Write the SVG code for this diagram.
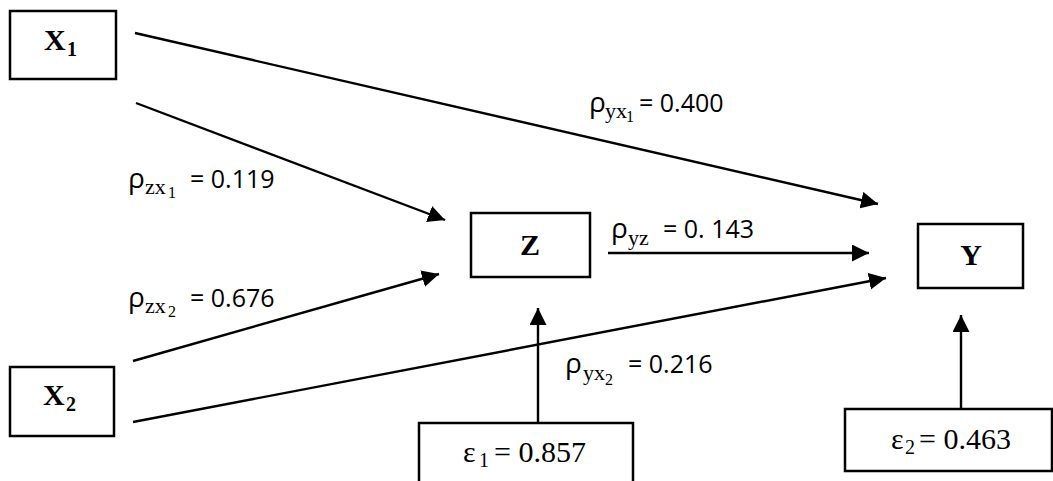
<svg xmlns="http://www.w3.org/2000/svg" width="1053" height="481" viewBox="0 0 1053 481">
<style>
.box{fill:#fff;stroke:#000;stroke-width:2.5}
.edge{stroke:#000;stroke-width:2.4;fill:none}
.bl{font-family:"Liberation Serif","DejaVu Serif",serif;font-weight:bold;font-size:30px;fill:#000}
.bls{font-family:"Liberation Serif","DejaVu Serif",serif;font-weight:bold;font-size:20px;fill:#000}
.lab{font-family:"Open Sans","Liberation Sans",sans-serif;font-size:25px;fill:#000}
.rho{font-family:"Open Sans","Liberation Sans",sans-serif;font-size:28px;fill:#000}
.sub{font-family:"Liberation Serif","DejaVu Serif",serif;font-size:22px;fill:#000}
.ss{font-family:"Liberation Serif","DejaVu Serif",serif;font-size:16px;fill:#000}
.eps{font-family:"Liberation Serif","DejaVu Serif",serif;font-size:30px;fill:#000}
.epss{font-family:"Liberation Serif","DejaVu Serif",serif;font-size:20px;fill:#000}
</style>
<defs>
<marker id="ah" markerUnits="userSpaceOnUse" markerWidth="18" markerHeight="18" refX="17" refY="8.5" orient="auto">
<path d="M0,0 L17,8.5 L0,17 Z" fill="#000"/>
</marker>
</defs>
<rect width="1053" height="481" fill="#fff"/>
<g id="connectors">
<line class="edge" x1="135" y1="33" x2="878" y2="204" marker-end="url(#ah)"/>
<line class="edge" x1="136" y1="103" x2="445" y2="220" marker-end="url(#ah)"/>
<line class="edge" x1="133" y1="361" x2="439" y2="274" marker-end="url(#ah)"/>
<line class="edge" x1="133" y1="422" x2="886" y2="278" marker-end="url(#ah)"/>
<line class="edge" x1="608" y1="253" x2="869" y2="253" marker-end="url(#ah)"/>
<line class="edge" x1="538" y1="423" x2="538" y2="308" marker-end="url(#ah)"/>
<line class="edge" x1="961" y1="409" x2="961" y2="315" marker-end="url(#ah)"/>
</g>
<g id="labels">
<text class="rho" x="589" y="112">ρ</text><text class="sub" x="605" y="118">yx</text><text class="ss" x="626" y="122">1</text><text class="lab" x="639" y="112">= 0.400</text>
<text class="rho" x="128" y="188">ρ</text><text class="sub" x="145" y="194">zx</text><text class="ss" x="168" y="198">1</text><text class="lab" x="190" y="188">= 0.119</text>
<text class="rho" x="128" y="307">ρ</text><text class="sub" x="145" y="313">zx</text><text class="ss" x="168" y="317">2</text><text class="lab" x="190" y="307">= 0.676</text>
<text class="rho" x="611" y="238">ρ</text><text class="sub" x="628" y="245">yz</text><text class="lab" x="663" y="238">= 0. 143</text>
<text class="rho" x="565" y="373">ρ</text><text class="sub" x="583" y="380">yx</text><text class="ss" x="605" y="385">2</text><text class="lab" x="628" y="373">= 0.216</text>
</g>
<g id="X1">
<rect class="box" x="10" y="11" width="106" height="68"/>
<text class="bl" x="44" y="50">X</text><text class="bls" x="67" y="56">1</text>
</g>
<g id="X2">
<rect class="box" x="10" y="367" width="104" height="69"/>
<text class="bl" x="43" y="405">X</text><text class="bls" x="66" y="411">2</text>
</g>
<g id="Z">
<rect class="box" x="471" y="213" width="119" height="64"/>
<text class="bl" x="530" y="255" text-anchor="middle">Z</text>
</g>
<g id="Y">
<rect class="box" x="918" y="224" width="105" height="64"/>
<text class="bl" x="971" y="265" text-anchor="middle">Y</text>
</g>
<g id="E1">
<rect class="box" x="419" y="423" width="214" height="70"/>
<text class="eps" x="463" y="462">ε</text><text class="epss" x="479" y="467">1</text><text class="eps" x="494" y="462">= 0.857</text>
</g>
<g id="E2">
<rect class="box" x="845" y="409" width="207" height="62"/>
<text class="eps" x="891" y="449">ε</text><text class="epss" x="905" y="454">2</text><text class="eps" x="919" y="449">= 0.463</text>
</g>
</svg>
